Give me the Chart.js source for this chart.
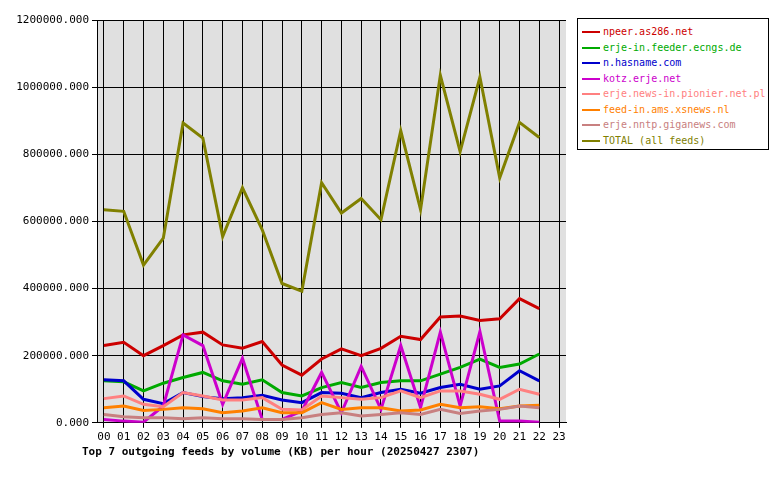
<!DOCTYPE html>
<html><head><meta charset="utf-8">
<script src="https://cdn.jsdelivr.net/npm/chart.js@4"></script>
<style>
body{margin:0;background:#fff;width:780px;height:480px;position:relative;font-family:'DejaVu Sans Mono',monospace;}
#wrap{position:absolute;left:0;top:0;width:570px;height:447px;}
#legend{position:absolute;left:577px;top:18px;width:192px;height:132px;border:1px solid #000;padding:5px 0 0 0;font-size:10px;box-sizing:border-box;}
#legend div{height:15.5px;line-height:15.5px;white-space:nowrap;}
#legend span.m{display:inline-block;width:18px;height:2px;margin:0 3px 0 4px;vertical-align:middle;}
#title{position:absolute;left:82px;top:445px;font-size:11px;font-weight:bold;}
</style></head><body>
<div id="wrap"><canvas id="c"></canvas></div>
<div id="legend"></div>
<div id="title">Top 7 outgoing feeds by volume (KB) per hour (20250427 2307)</div>
<script>
const hours = ['00','01','02','03','04','05','06','07','08','09','10','11','12','13','14','15','16','17','18','19','20','21','22','23'];
const names = ['npeer.as286.net','erje-in.feeder.ecngs.de','n.hasname.com','kotz.erje.net','erje.news-in.pionier.net.pl','feed-in.ams.xsnews.nl','erje.nntp.giganews.com','TOTAL (all feeds)'];
const colors = ['#cc0000','#00aa00','#0000cc','#cc00cc','#ff8080','#ff8000','#c88080','#808000'];
const npeer = [230,240,200,230,262,270,232,222,242,172,142,190,220,200,222,258,248,315,318,305,310,370,340];
const ecngs = [125,122,95,118,135,150,125,115,128,90,80,105,120,105,120,125,125,145,165,190,165,175,205];
const hasname = [128,125,70,57,90,78,72,75,82,68,60,90,88,75,90,100,88,105,115,100,110,155,125];
const kotz = [10,5,2,50,262,230,55,192,10,10,35,150,30,168,40,230,45,270,50,272,5,5,2];
const pionier = [72,80,55,48,90,80,68,68,75,40,38,80,75,70,75,95,75,95,95,85,70,100,85];
const xsnews = [45,50,37,40,45,42,30,35,45,30,30,60,40,45,45,35,38,55,45,48,42,50,52];
const giganews = [25,18,15,15,12,15,12,12,10,10,15,25,30,20,25,30,25,40,28,35,40,50,45];
const total = [635,630,470,550,893,848,555,700,575,415,392,715,625,668,605,870,635,1035,808,1030,730,895,850];
const series = [npeer,ecngs,hasname,kotz,pionier,xsnews,giganews,total];

const lg = document.getElementById('legend');
names.forEach((n,i)=>{
  lg.innerHTML += `<div><span class="m" style="background:${colors[i]}"></span><span style="color:${colors[i]}">${n}</span></div>`;
});

const bgPlugin = {id:'bg', beforeDraw(ch){const a=ch.chartArea,x=ch.ctx;x.save();x.fillStyle='#e0e0e0';x.fillRect(a.left,a.top,a.right-a.left,a.bottom-a.top);x.restore();}};

new Chart(document.getElementById('c'), {
  type:'line',
  data:{datasets: series.map((s,i)=>({label:names[i],data:s.map((v,j)=>({x:j,y:v*1000})),borderColor:colors[i],borderWidth:3,pointRadius:0,tension:0,order:7-i}))},
  options:{responsive:true,maintainAspectRatio:false,animation:false,
    layout:{padding:{left:10,right:4,top:20,bottom:0}},
    plugins:{legend:{display:false},tooltip:{enabled:false}},
    scales:{
      x:{type:'linear',min:-0.35,max:23.35,afterBuildTicks(ax){ax.ticks=hours.map((h,i)=>({value:i}));},
        ticks:{callback:(v)=>hours[v],color:'#000',font:{family:'DejaVu Sans Mono',size:11},maxRotation:0,autoSkip:false},
        grid:{color:'#000',lineWidth:1,tickLength:5},border:{color:'#000'}},
      y:{min:0,max:1200000,afterFit(ax){ax.width=87;},ticks:{stepSize:200000,callback:v=>v.toFixed(3),color:'#000',font:{family:'DejaVu Sans Mono',size:11}},
        grid:{color:'#000',lineWidth:1,tickLength:5},border:{color:'#000'}}
    }},
  plugins:[bgPlugin]
});
</script></body></html>
